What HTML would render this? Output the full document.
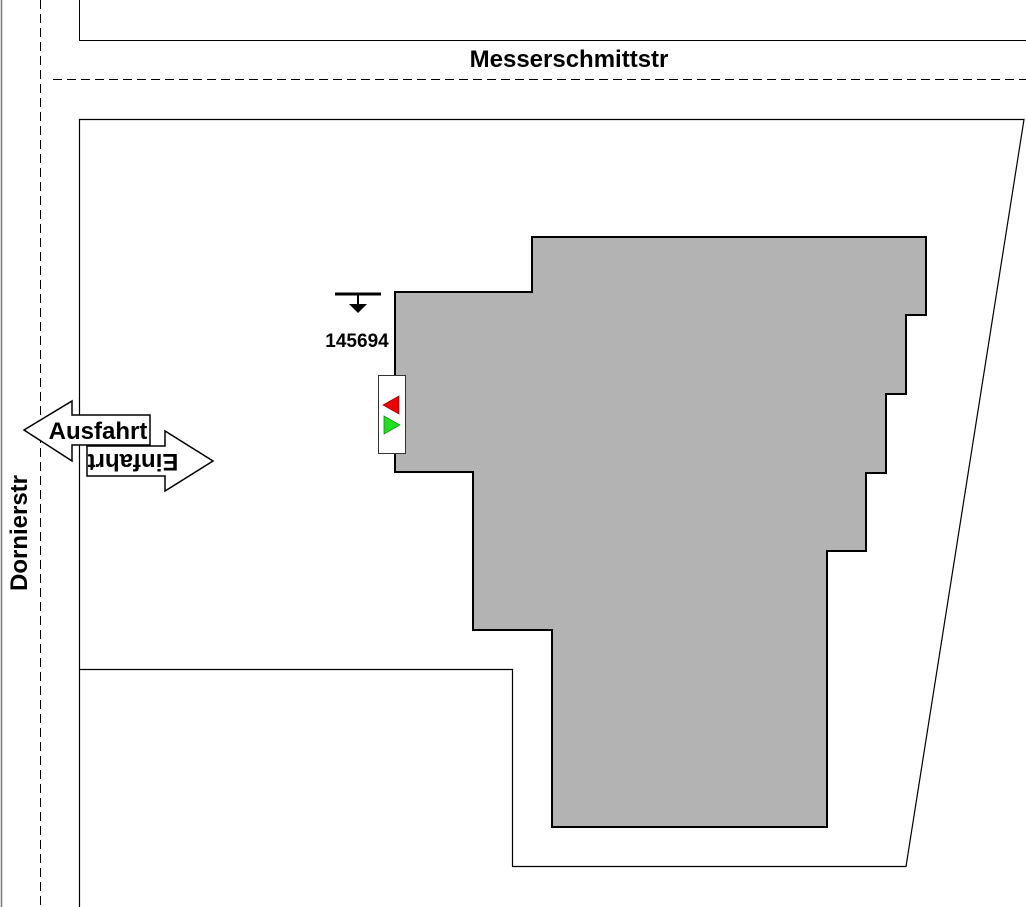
<!DOCTYPE html>
<html><head><style>body{margin:0;background:#fff}svg{display:block}text{font-family:"Liberation Sans",sans-serif;font-weight:bold}</style></head><body>
<svg width="1026" height="907" viewBox="0 0 1026 907">
<line x1="1.5" y1="0" x2="1.5" y2="907" stroke="#777" stroke-width="1.5"/>
<line x1="40.5" y1="0" x2="40.5" y2="907" stroke="#000" stroke-dasharray="9,5"/>
<line x1="53" y1="79.5" x2="1026" y2="79.5" stroke="#000" stroke-dasharray="9,5"/>
<polyline points="79.5,0 79.5,40.5 1026,40.5" fill="none" stroke="#000"/>
<polyline points="79.5,907 79.5,119.5 1024,119.5 906,866.5 512.5,866.5 512.5,669.5 79.5,669.5" fill="none" stroke="#000" stroke-width="1.2"/>
<polygon points="395,292 532,292 532,237 926,237 926,315 906,315 906,394 886,394 886,473 866,473 866,551 827,551 827,827 552,827 552,630 473,630 473,472 395,472" fill="#b3b3b3" stroke="#000" stroke-width="2"/>
<text x="569" y="67" font-size="24" text-anchor="middle">Messerschmittstr</text>
<text transform="translate(27,533) rotate(-90)" font-size="24" text-anchor="middle">Dornierstr</text>
<line x1="335" y1="294" x2="381" y2="294" stroke="#000" stroke-width="3"/>
<line x1="358" y1="294" x2="358" y2="306" stroke="#000" stroke-width="2"/>
<polygon points="349,304 367,304 358,313" fill="#000"/>
<text x="357" y="347" font-size="19" text-anchor="middle">145694</text>
<rect x="378.5" y="375.5" width="27" height="78" fill="#fff" stroke="#333"/>
<polygon points="399,396 399,414 383,405" fill="#e00" stroke="#800" stroke-width="0.7"/>
<polygon points="384,416 384,434 400,425" fill="#2d2" stroke="#080" stroke-width="0.7"/>
<polygon points="87,446 165,446 165,431 213,461 165,491 165,476 87,476" fill="#fff" stroke="#000" stroke-width="1.5"/>
<text transform="translate(133,454) rotate(180)" font-size="24" text-anchor="middle">Einfahrt</text>
<polygon points="150,415 72,415 72,401 24,430 72,461 72,445 150,445" fill="#fff" stroke="#000" stroke-width="1.5"/>
<text x="98" y="439" font-size="24" text-anchor="middle">Ausfahrt</text>
</svg>
</body></html>
